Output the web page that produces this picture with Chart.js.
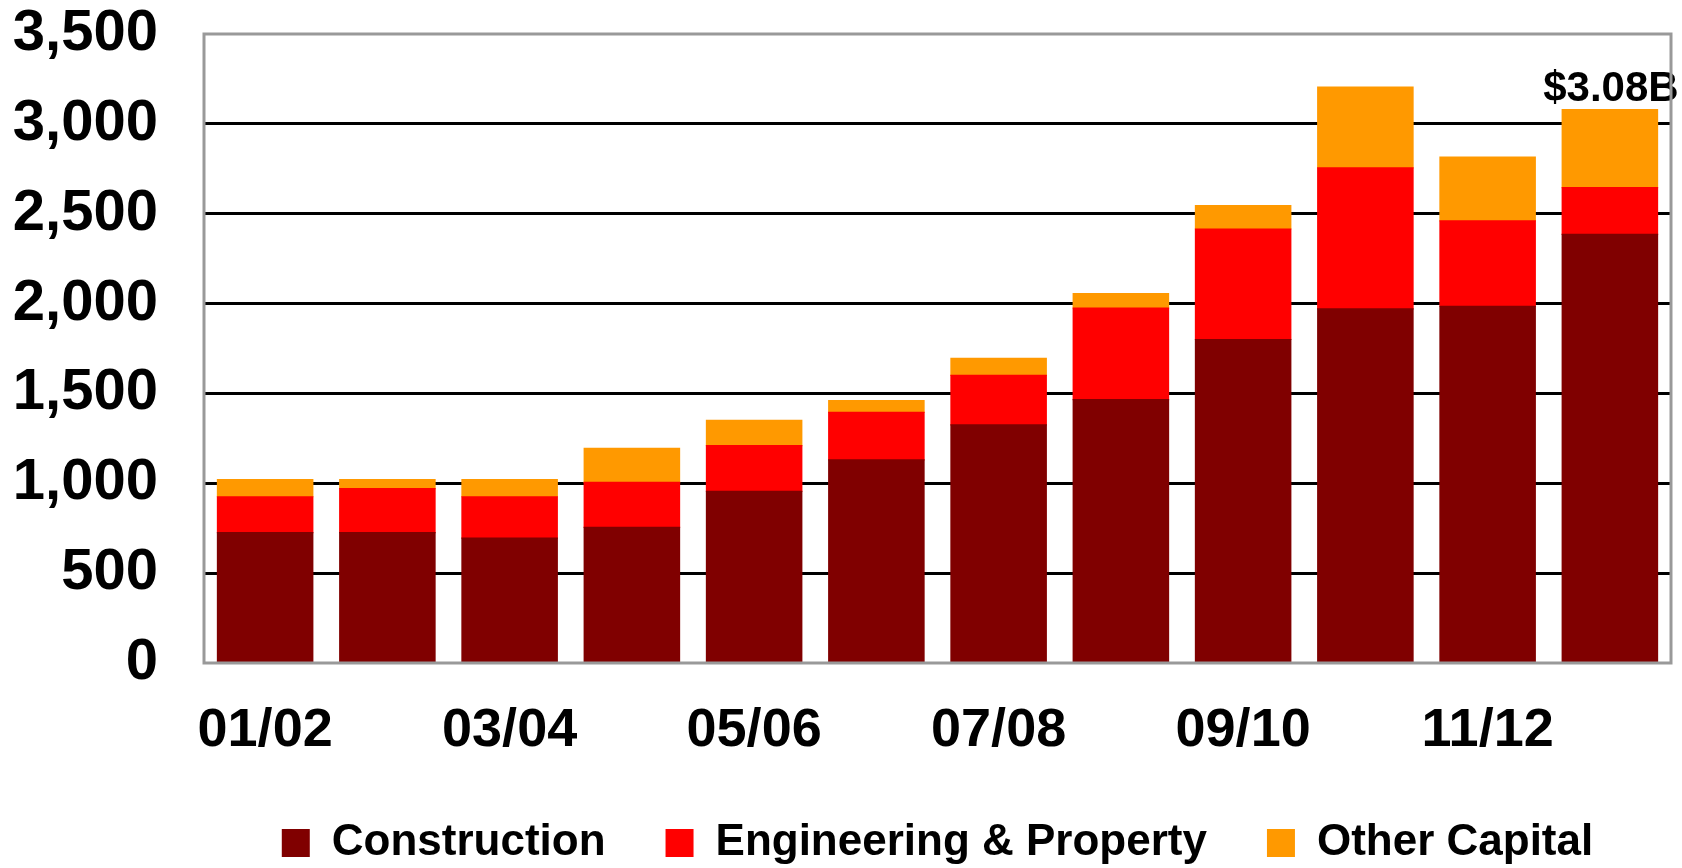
<!DOCTYPE html>
<html>
<head>
<meta charset="utf-8">
<script src="https://cdn.jsdelivr.net/npm/chart.js@4.4.1/dist/chart.umd.min.js"></script>
<style>
  body { margin: 0; background: #fff; }
  #wrap { width: 1682px; height: 868px; }
</style>
</head>
<body>
<div id="wrap"><canvas id="capChart" width="1682" height="868"></canvas></div>
<script>
// fiscal years, labelled every other one on the axis
const years = ['01/02', '02/03', '03/04', '04/05', '05/06', '06/07', '07/08', '08/09', '09/10', '10/11', '11/12', '12/13'];
const construction = [725, 725, 695, 755, 955, 1130, 1325, 1465, 1800, 1970, 1985, 2385];
const engineering = [200, 245, 230, 250, 255, 265, 275, 510, 615, 785, 475, 260];
const otherCapital = [95, 50, 95, 190, 140, 65, 95, 80, 130, 450, 355, 435];
const yTicks = [0, 500, 1000, 1500, 2000, 2500, 3000, 3500];

const FONT = '"Liberation Sans", Arial, sans-serif';

// grey frame round the plot
const frame = {
    id: 'frame',
    afterDraw(chart) {
        let a = chart.chartArea;
        let ctx = chart.ctx;
        ctx.save();
        ctx.strokeStyle = '#999999';
        ctx.lineWidth = 3;
        ctx.strokeRect(a.left, a.top, a.right - a.left, a.bottom - a.top);
        ctx.restore();
    }
};

// total over the last bar
const lastTotal = {
    id: 'lastTotal',
    afterDatasetsDraw(chart) {
        let i = years.length - 1;
        let total = construction[i] + engineering[i] + otherCapital[i];
        let bar = chart.getDatasetMeta(2).data[i];
        let ctx = chart.ctx;
        ctx.save();
        ctx.font = 'bold 42px ' + FONT;
        ctx.fillStyle = '#000';
        ctx.textAlign = 'center';
        ctx.textBaseline = 'alphabetic';
        ctx.fillText('$' + (total / 1000).toFixed(2) + 'B', bar.x + 1, bar.y - 8);
        ctx.restore();
    }
};

new Chart(document.getElementById('capChart'), {
    type: 'bar',
    data: {
        labels: years,
        datasets: [
            { label: 'Construction', data: construction, backgroundColor: '#800000' },
            { label: 'Engineering & Property', data: engineering, backgroundColor: '#FF0000' },
            { label: 'Other Capital', data: otherCapital, backgroundColor: '#FF9900' }
        ]
    },
    options: {
        responsive: false,
        animation: false,
        layout: { padding: { top: 34, right: 11, left: 0, bottom: 0 } },
        datasets: { bar: { barPercentage: 0.78, categoryPercentage: 1.0, inflateAmount: 0.6 } },
        scales: {
            x: {
                stacked: true,
                grid: { display: false, drawTicks: false },
                border: { display: false },
                ticks: {
                    autoSkip: false,
                    maxRotation: 0,
                    padding: 36,
                    color: '#000',
                    font: { family: FONT, size: 54, weight: 'bold' },
                    callback: function (v, i) { return i % 2 === 0 ? years[i] : ''; }
                },
                afterFit(scale) { scale.height = 98; }
            },
            y: {
                stacked: true,
                min: 0,
                max: 3500,
                afterBuildTicks(scale) { scale.ticks = yTicks.map(v => ({ value: v })); },
                grid: {
                    drawTicks: false,
                    lineWidth: 3,
                    color: ctx => (ctx.tick.value > 0 && ctx.tick.value < 3500) ? '#000' : 'rgba(0,0,0,0)'
                },
                border: { display: false },
                ticks: {
                    padding: 46,
                    color: '#000',
                    font: { family: FONT, size: 58, weight: 'bold' },
                    callback: v => v.toLocaleString('en-US')
                },
                afterFit(scale) {
                    scale.width = 204;
                    scale.paddingTop = 0;
                    scale.paddingBottom = 0;
                }
            }
        },
        plugins: {
            legend: {
                position: 'bottom',
                fullSize: false,
                maxHeight: 107,
                labels: {
                    boxWidth: 28,
                    boxHeight: 28,
                    padding: 60,
                    color: '#000',
                    font: { family: FONT, size: 44, weight: 'bold' }
                }
            },
            tooltip: { enabled: false }
        }
    },
    plugins: [frame, lastTotal]
});
</script>
</body>
</html>
